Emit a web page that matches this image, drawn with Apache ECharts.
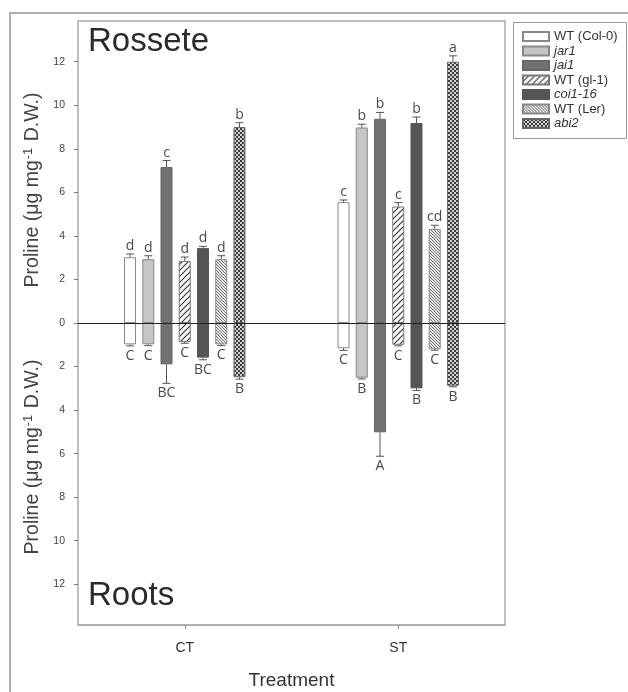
<!DOCTYPE html>
<html>
<head>
<meta charset="utf-8">
<script src="https://cdn.jsdelivr.net/npm/echarts@6/dist/echarts.min.js"></script>
<style>
html,body{margin:0;padding:0;background:#fff;}
#chart{width:628px;height:692px;}
</style>
</head>
<body>
<div id="chart"></div>
<script>
// ---------- data ----------
const categories = ['CT', 'ST'];
const genotypes = ['WT (Col-0)', 'jar1', 'jai1', 'WT (gl-1)', 'coi1-16', 'WT (Ler)', 'abi2'];
const italicNames = ['jar1', 'jai1', 'coi1-16', 'abi2'];

// Rosette (upper half)
const rosetteCT    = [3.02, 2.93, 7.16, 2.85, 3.44, 2.93, 9.00];
const rosetteST    = [5.55, 8.98, 9.38, 5.35, 9.18, 4.32, 12.00];
const rosetteErrCT = [0.15, 0.16, 0.30, 0.18, 0.08, 0.16, 0.20];
const rosetteErrST = [0.10, 0.15, 0.29, 0.18, 0.28, 0.17, 0.27];
const rosetteLetCT = ['d', 'd', 'c', 'd', 'd', 'd', 'b'];
const rosetteLetST = ['c', 'b', 'b', 'c', 'b', 'cd', 'a'];

// Roots (lower half, plotted downward)
const rootsCT    = [0.98, 0.98, 1.90, 0.87, 1.59, 0.98, 2.49];
const rootsST    = [1.16, 2.51, 5.02, 1.00, 3.00, 1.20, 2.88];
const rootsErrCT = [0.07, 0.06, 0.87, 0.06, 0.10, 0.05, 0.09];
const rootsErrST = [0.10, 0.06, 1.10, 0.05, 0.10, 0.05, 0.05];
const rootsLetCT = ['C', 'C', 'BC', 'C', 'BC', 'C', 'B'];
const rootsLetST = ['C', 'B', 'A', 'C', 'B', 'C', 'B'];

const yTicks = [-12, -10, -8, -6, -4, -2, 0, 2, 4, 6, 8, 10, 12];

// ---------- styles ----------
const BAR_W = 12;
const BAR_GAP = 0.52;
const FONT = '"Liberation Sans", Arial, sans-serif';

function makeCanvas(s) {
  const c = document.createElement('canvas');
  c.width = s; c.height = s;
  return c;
}
function hatch(bg, fg, s, dir, lw) {
  const c = makeCanvas(s);
  const g = c.getContext('2d');
  g.fillStyle = bg; g.fillRect(0, 0, s, s);
  g.strokeStyle = fg; g.lineWidth = lw;
  g.beginPath();
  if (dir === '/') {
    g.moveTo(0, s); g.lineTo(s, 0);
    g.moveTo(-1, 1); g.lineTo(1, -1);
    g.moveTo(s - 1, s + 1); g.lineTo(s + 1, s - 1);
  } else {
    g.moveTo(0, 0); g.lineTo(s, s);
    g.moveTo(s - 1, -1); g.lineTo(s + 1, 1);
    g.moveTo(-1, s - 1); g.lineTo(1, s + 1);
  }
  g.stroke();
  return { image: c, repeat: 'repeat' };
}
function checker(a, b) {
  const c = makeCanvas(4);
  const g = c.getContext('2d');
  g.fillStyle = b; g.fillRect(0, 0, 4, 4);
  g.fillStyle = a; g.fillRect(0, 0, 2, 2); g.fillRect(2, 2, 2, 2);
  return { image: c, repeat: 'repeat' };
}

const fills = [
  '#ffffff',
  '#c6c6c6',
  '#727272',
  hatch('#ffffff', '#3a3a3a', 6, '/', 1.2),
  '#555555',
  hatch('#e6e6e6', '#6a6a6a', 3, '\\', 0.9),
  checker('#3c3c3c', '#d0d0d0')
];
const borders = ['#888', '#888', '#666', '#777', '#555', '#888', '#666'];

// ---------- series ----------
const series = [];
genotypes.forEach((g, i) => {
  const st = { color: fills[i], borderColor: borders[i], borderWidth: 1 };
  series.push({
    type: 'bar', name: g, stack: 'g' + i, barWidth: BAR_W, barGap: (BAR_GAP * 100) + '%',
    data: [rosetteCT[i], rosetteST[i]], itemStyle: st, z: 2,
    emphasis: { disabled: true }
  });
  series.push({
    type: 'bar', name: g, stack: 'g' + i, barWidth: BAR_W, barGap: (BAR_GAP * 100) + '%',
    data: [-rootsCT[i], -rootsST[i]], itemStyle: st, z: 2,
    emphasis: { disabled: true }
  });
});

// zero line
series[0].markLine = {
  silent: true, symbol: 'none', label: { show: false },
  lineStyle: { color: '#222', width: 1, type: 'solid' },
  data: [{ yAxis: 0 }], z: 5
};

// error bars + letters
const errData = [];
const errLetters = [];
genotypes.forEach((g, i) => {
  errData.push([0, rosetteCT[i], rosetteErrCT[i], i, 1]); errLetters.push(rosetteLetCT[i]);
  errData.push([1, rosetteST[i], rosetteErrST[i], i, 1]); errLetters.push(rosetteLetST[i]);
  errData.push([0, -rootsCT[i], rootsErrCT[i], i, -1]); errLetters.push(rootsLetCT[i]);
  errData.push([1, -rootsST[i], rootsErrST[i], i, -1]); errLetters.push(rootsLetST[i]);
});

series.push({
  type: 'custom',
  name: 'err',
  z: 6,
  silent: true,
  encode: { x: 0, y: 1 },
  data: errData,
  renderItem: function (params, api) {
    const cat = api.value(0), v = api.value(1), e = api.value(2), gi = api.value(3), sg = api.value(4);
    const off = (gi - 3) * BAR_W * (1 + BAR_GAP);
    const p0 = api.coord([cat, v]);
    const p1 = api.coord([cat, v + sg * e]);
    const x = p0[0] + off;
    const lineStyle = { stroke: '#555', lineWidth: 1 };
    return {
      type: 'group',
      children: [
        { type: 'line', shape: { x1: x, y1: p0[1], x2: x, y2: p1[1] }, style: lineStyle },
        { type: 'line', shape: { x1: x - 4, y1: p1[1], x2: x + 4, y2: p1[1] }, style: lineStyle },
        {
          type: 'text',
          style: {
            text: errLetters[params.dataIndex],
            x: x, y: sg > 0 ? p1[1] - 1 : p1[1] + 3,
            align: 'center', verticalAlign: sg > 0 ? 'bottom' : 'top',
            fill: '#4a4a4a', font: '14px "Open Sans", "Liberation Sans", sans-serif'
          }
        }
      ]
    };
  }
});

const titleRich = {
  n: { fontSize: 19.5, fontFamily: FONT, fill: '#444' },
  sup: { fontSize: 13, fontFamily: FONT, fill: '#444', verticalAlign: 'top', lineHeight: 22, padding: [0, 1, 8, 1] }
};

const option = {
  animation: false,
  backgroundColor: '#fff',
  grid: {
    left: 78, right: 123, top: 21, bottom: 67, show: true, borderColor: '#aaa', borderWidth: 1.5,
    backgroundColor: 'transparent', containLabel: false, outerBoundsMode: 'none'
  },
  xAxis: {
    type: 'category', data: categories, position: 'bottom',
    axisLine: { show: true, onZero: false, lineStyle: { color: '#aaa', width: 1.5 } },
    axisTick: { show: true, alignWithLabel: true, length: 4, lineStyle: { color: '#888' } },
    axisLabel: { margin: 16, fontSize: 14, color: '#333', fontFamily: FONT },
    name: 'Treatment', nameLocation: 'middle', nameGap: 46,
    nameTextStyle: { fontSize: 19, color: '#333', fontFamily: FONT }
  },
  yAxis: {
    type: 'value', min: -13.87, max: 13.87,
    splitLine: { show: false },
    axisLine: { show: false },
    axisTick: { show: true, length: 4, customValues: yTicks, lineStyle: { color: '#777' } },
    axisLabel: {
      customValues: yTicks, margin: 13, fontSize: 10.5, color: '#444',
      fontFamily: FONT,
      formatter: function (v) { return String(Math.abs(Math.round(v))); }
    }
  },
  legend: {
    data: genotypes, orient: 'vertical', left: 517, top: 25,
    icon: 'rect', itemWidth: 26, itemHeight: 9, itemGap: 1.5,
    selectedMode: false,
    textStyle: {
      fontSize: 13, lineHeight: 13, color: '#333', fontFamily: FONT,
      rich: { i: { fontStyle: 'italic', fontSize: 13, lineHeight: 13, color: '#333', fontFamily: FONT } }
    },
    formatter: function (n) { return italicNames.indexOf(n) >= 0 ? '{i|' + n + '}' : n; }
  },
  graphic: [
    { type: 'polyline', shape: { points: [[10, 700], [10, 13], [640, 13]] }, style: { stroke: '#b0b0b0', lineWidth: 2, fill: null }, silent: true },
    { type: 'rect', shape: { x: 513.5, y: 22.5, width: 113, height: 116 }, style: { stroke: '#999', lineWidth: 1, fill: null }, silent: true },
    { type: 'text', x: 88, y: 42, style: { text: 'Rossete', font: '33px ' + FONT, fill: '#2a2a2a', verticalAlign: 'middle' }, silent: true },
    { type: 'text', x: 88, y: 596, style: { text: 'Roots', font: '33px ' + FONT, fill: '#2a2a2a', verticalAlign: 'middle' }, silent: true },
    { type: 'text', x: 33, y: 190, rotation: Math.PI / 2, style: { text: '{n|Proline (μg mg}{sup|-1}{n| D.W.)}', rich: titleRich, align: 'center', verticalAlign: 'middle' }, silent: true },
    { type: 'text', x: 33, y: 457, rotation: Math.PI / 2, style: { text: '{n|Proline (μg mg}{sup|-1}{n| D.W.)}', rich: titleRich, align: 'center', verticalAlign: 'middle' }, silent: true }
  ],
  series: series
};

const chart = echarts.init(document.getElementById('chart'), null, { renderer: 'canvas' });
chart.setOption(option);
</script>
</body>
</html>
